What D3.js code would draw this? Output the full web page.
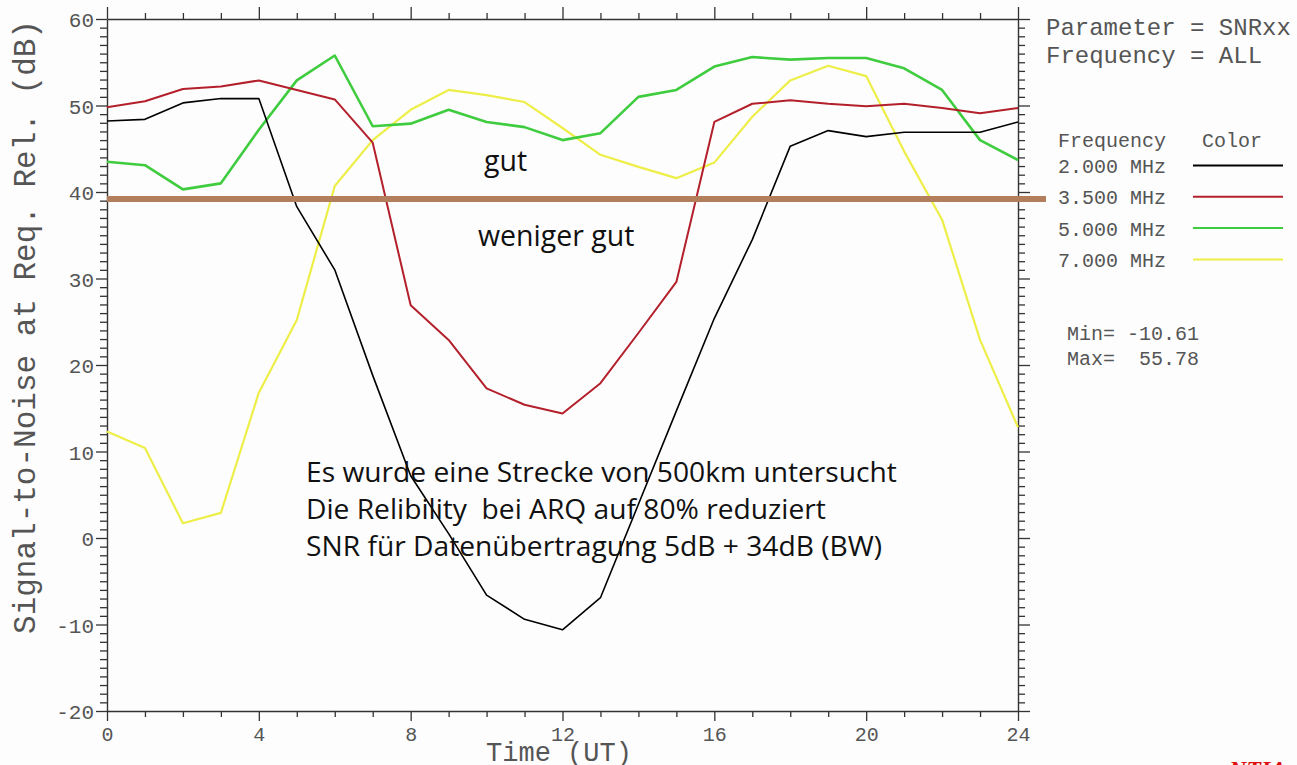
<!DOCTYPE html>
<html>
<head>
<meta charset="utf-8">
<script src="https://cdn.jsdelivr.net/npm/d3@7"></script>
<style>
  body { margin:0; background:#fdfdfd; }
  svg { display:block; }
</style>
</head>
<body>
<div id="chart"></div>
<script>
// hours (UT) and SNR values per frequency
var hours = [0,1,2,3,4,5,6,7,8,9,10,11,12,13,14,15,16,17,18,19,20,21,22,23,24];
var snr2000 = [48.2,48.4,50.3,50.8,50.8,38.3,31.0,18.8,7.2,0.5,-6.6,-9.4,-10.61,-6.9,3.9,14.7,25.4,34.5,45.3,47.1,46.4,46.9,46.9,46.9,48.1];
var snr3500 = [49.8,50.5,51.9,52.2,52.9,51.8,50.7,45.7,26.9,22.9,17.3,15.4,14.4,17.9,23.7,29.6,48.1,50.2,50.6,50.2,49.9,50.2,49.7,49.1,49.7];
var snr5000 = [43.5,43.1,40.3,41.0,47.2,52.9,55.78,47.6,47.9,49.5,48.1,47.5,46.0,46.8,51.0,51.8,54.5,55.6,55.3,55.5,55.5,54.3,51.8,46.0,43.7];
var snr7000 = [12.3,10.4,1.7,2.9,16.8,25.2,40.7,46.0,49.5,51.8,51.2,50.4,47.4,44.3,42.9,41.6,43.4,48.7,52.9,54.6,53.4,44.7,36.8,22.9,12.8];

var freqLabels = ["2.000 MHz","3.500 MHz","5.000 MHz","7.000 MHz"];
var freqColors = ["#000000","#b3202b","#3fcc3f","#eeee48"];
var xTicksMajor = [0,4,8,12,16,20,24];
var yTicksMajor = [-20,-10,0,10,20,30,40,50,60];
var threshold = 39.2;   // "gut" / "weniger gut" border (brown line)

var W = 1297, H = 765;
var svg = d3.select("#chart").append("svg").attr("width",W).attr("height",H);
svg.append("rect").attr("width",W).attr("height",H).style("fill","#fdfdfd");

var x = d3.scaleLinear().domain([0,24]).range([107,1018]);
var y = d3.scaleLinear().domain([-20,60]).range([711,19]);

var axisColor = "#333";
var mono = "'Liberation Mono', 'DejaVu Sans Mono', monospace";

//------------------------------ AXES ------------------------------//
function styleAxis(g, isMajor, majorLen, minorLen, sign, horiz){
    g.select(".domain").attr("stroke",axisColor).attr("stroke-width",1.4);
    g.selectAll(".tick line").attr("stroke",axisColor).attr("stroke-width",1.3)
        .each(function(d){
            var len = (isMajor(d) ? majorLen : minorLen) * sign;
            if(horiz) d3.select(this).attr("y2",len); else d3.select(this).attr("x2",len);
        });
}

var yTicks = d3.range(-20,61);
var xTicks = hours;

var gLeft = svg.append("g").attr("transform","translate("+x(0)+",0)")
    .call(d3.axisLeft(y).tickValues(yTicks).tickSizeOuter(0)
        .tickFormat(function(d){ return yTicksMajor.indexOf(d) >= 0 ? String(d) : ""; }));
styleAxis(gLeft, function(d){ return d%10===0; }, 11, 7, -1, false);
gLeft.selectAll(".tick text").attr("x",-13).attr("dy","0.36em")
    .style("font-family",mono).style("font-size","21px").style("fill","#555");

var gRight = svg.append("g").attr("transform","translate("+x(24)+",0)")
    .call(d3.axisRight(y).tickValues(yTicks).tickSizeOuter(0).tickFormat(""));
styleAxis(gRight, function(d){ return d%10===0; }, 12, 7, 1, false);

var gBottom = svg.append("g").attr("transform","translate(0,"+y(-20)+")")
    .call(d3.axisBottom(x).tickValues(xTicks).tickSizeOuter(0)
        .tickFormat(function(d){ return xTicksMajor.indexOf(d) >= 0 ? String(d) : ""; }));
styleAxis(gBottom, function(d){ return d%4===0; }, 10, 6, 1, true);
gBottom.selectAll(".tick text").attr("y",30).attr("dy",0)
    .style("font-family",mono).style("font-size","20px").style("fill","#555");

var gTop = svg.append("g").attr("transform","translate(0,"+y(60)+")")
    .call(d3.axisTop(x).tickValues(xTicks).tickSizeOuter(0).tickFormat(""));
styleAxis(gTop, function(d){ return d%4===0; }, 12, 6, -1, true);

// axis titles
svg.append("text").attr("transform","translate(35,327) rotate(-90)")
    .attr("text-anchor","middle").style("font-family",mono).style("font-size","31px")
    .style("fill","#555").text("Signal-to-Noise at Req. Rel. (dB)");
svg.append("text").attr("x",559).attr("y",761).attr("text-anchor","middle")
    .style("font-family",mono).style("font-size","27px").style("fill","#555").text("Time (UT)");

//------------------------------ LINES ------------------------------//
var series = [snr2000, snr3500, snr5000, snr7000];
var widths = [1.6, 2, 2.6, 2.2];
var line = d3.line().x(function(d,i){ return x(hours[i]); }).y(function(d){ return y(d); });

// draw yellow first, black on top
[3,2,1,0].forEach(function(k){
    svg.append("path").datum(series[k]).attr("d",line)
        .style("fill","none").style("stroke",freqColors[k]).style("stroke-width",widths[k])
        .style("stroke-linejoin","round");
});

// brown threshold line
svg.append("line").attr("x1",x(0)).attr("x2",x(24)+28)
    .attr("y1",y(threshold)).attr("y2",y(threshold))
    .style("stroke","#b27e5c").style("stroke-width",6);

//------------------------------ ANNOTATIONS ------------------------------//
var sans = "'Open Sans', 'Noto Sans', sans-serif";
svg.append("text").attr("x",484).attr("y",171).style("font-family",sans).style("font-size","28.5px")
    .style("fill","#111").text("gut");
svg.append("text").attr("x",478).attr("y",246).style("font-family",sans).style("font-size","28.5px")
    .style("fill","#111").text("weniger gut");

var notes = ["Es wurde eine Strecke von 500km untersucht",
             "Die Relibility  bei ARQ auf 80% reduziert",
             "SNR für Datenübertragung 5dB + 34dB (BW)"];
svg.append("g").selectAll("text").data(notes).join("text")
    .attr("x",306).attr("y",function(d,i){ return 482 + i*37; })
    .attr("xml:space","preserve").style("white-space","pre")
    .style("font-family",sans).style("font-size","28.2px").style("fill","#111")
    .text(function(d){ return d; });

//------------------------------ LEGEND ------------------------------//
var lg = svg.append("g").style("font-family",mono).style("fill","#555");
lg.append("text").attr("x",1046).attr("y",35).style("font-size","24px").text("Parameter = SNRxx");
lg.append("text").attr("x",1046).attr("y",63).style("font-size","24px").text("Frequency = ALL");
lg.append("text").attr("x",1058).attr("y",147).style("font-size","20px")
    .attr("xml:space","preserve").style("white-space","pre").text("Frequency   Color");

freqLabels.forEach(function(lab,i){
    var yy = 173 + i*31.3;
    lg.append("text").attr("x",1058).attr("y",yy).style("font-size","20px").text(lab);
    lg.append("line").attr("x1",1193).attr("x2",1283).attr("y1",yy-7.5).attr("y2",yy-7.5)
        .style("stroke",freqColors[i]).style("stroke-width",2);
});

lg.append("text").attr("x",1067).attr("y",340).style("font-size","20px")
    .attr("xml:space","preserve").style("white-space","pre").text("Min= " + d3.min(snr2000).toFixed(2));
lg.append("text").attr("x",1067).attr("y",365).style("font-size","20px")
    .attr("xml:space","preserve").style("white-space","pre").text("Max=  " + d3.max(snr5000).toFixed(2));

// cut-off logo at the bottom right
svg.append("text").attr("x",1229).attr("y",777).style("font-family","'Liberation Serif', serif")
    .style("font-size","24px").style("font-weight","bold").style("font-style","italic")
    .style("fill","#e01010").text("NTIA");
</script>
</body>
</html>
